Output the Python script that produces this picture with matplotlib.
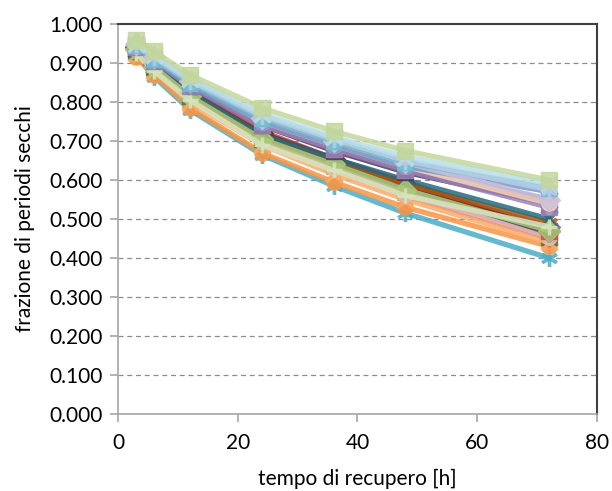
import matplotlib
matplotlib.use("Agg")
import matplotlib.pyplot as plt
from matplotlib.ticker import FormatStrFormatter

plt.rcParams['font.family'] = ['Lato', 'DejaVu Sans']

hours = [3, 6, 12, 24, 36, 48, 72]

series = [
    [0.935, 0.895, 0.825, 0.715, 0.650, 0.590, 0.480],
    [0.940, 0.900, 0.830, 0.725, 0.655, 0.595, 0.470],
    [0.930, 0.885, 0.810, 0.700, 0.635, 0.570, 0.460],
    [0.945, 0.910, 0.845, 0.745, 0.685, 0.630, 0.550],
    [0.920, 0.865, 0.780, 0.665, 0.585, 0.515, 0.400],
    [0.915, 0.870, 0.785, 0.670, 0.595, 0.530, 0.430],
    [0.935, 0.895, 0.820, 0.710, 0.645, 0.580, 0.465],
    [0.940, 0.900, 0.825, 0.720, 0.655, 0.590, 0.470],
    [0.930, 0.890, 0.815, 0.705, 0.640, 0.575, 0.455],
    [0.945, 0.905, 0.840, 0.740, 0.675, 0.620, 0.540],
    [0.935, 0.895, 0.825, 0.715, 0.655, 0.600, 0.500],
    [0.930, 0.890, 0.820, 0.710, 0.650, 0.590, 0.490],
    [0.945, 0.910, 0.845, 0.750, 0.690, 0.635, 0.570],
    [0.930, 0.885, 0.810, 0.695, 0.625, 0.560, 0.450],
    [0.935, 0.890, 0.815, 0.705, 0.640, 0.575, 0.470],
    [0.940, 0.905, 0.840, 0.740, 0.680, 0.625, 0.530],
    [0.945, 0.910, 0.850, 0.760, 0.700, 0.645, 0.580],
    [0.925, 0.880, 0.800, 0.690, 0.615, 0.550, 0.440],
    [0.950, 0.915, 0.855, 0.765, 0.705, 0.650, 0.575],
    [0.935, 0.890, 0.815, 0.700, 0.630, 0.565, 0.455],
    [0.925, 0.880, 0.805, 0.690, 0.625, 0.560, 0.480],
    [0.950, 0.915, 0.855, 0.760, 0.700, 0.645, 0.550],
    [0.950, 0.920, 0.860, 0.770, 0.710, 0.660, 0.590],
    [0.945, 0.910, 0.850, 0.750, 0.690, 0.635, 0.540],
    [0.960, 0.930, 0.870, 0.785, 0.725, 0.675, 0.600],
]

colors = [
    '#4F81BD', '#C0504D', '#9BBB59', '#8064A2', '#4BACC6', '#F79646',
    '#2C4D75', '#772C2A', '#5F7530', '#4D3B62', '#276A7C', '#B65708',
    '#729ACA', '#CD7371', '#AFC97A', '#9983B5', '#6FBDD1', '#F9AB6B',
    '#B9CDE5', '#E6B9B8', '#D7E4BD', '#CCC1DA', '#B7DEE8', '#FCD5B5',
    '#C3D69B',
]
STAR = (6, 2, 0)
markers = ['D', 's', '^', 'x', STAR, 'o', '+',
           'D', 's', '^', 'x', STAR, 'o', '+',
           'D', 's', '^', 'x', STAR, 'o', '+',
           'D', 'x', 'o', 's']

yticks = [0.0, 0.1, 0.2, 0.3, 0.4, 0.5, 0.6, 0.7, 0.8, 0.9, 1.0]
xticks = [0, 20, 40, 60, 80]

fig = plt.figure(figsize=(6.12, 4.91), dpi=100)
ax = fig.add_axes([0.1928, 0.1568, 0.7827, 0.7943])

ax.set_xlim(0, 80)
ax.set_ylim(0, 1.0)
ax.set_yticks(yticks)
ax.set_xticks(xticks)
ax.yaxis.set_major_formatter(FormatStrFormatter('%.3f'))

for gy in yticks[1:-1]:
    ax.axhline(gy, color='#8C8C8C', lw=0.9, ls=(0, (4, 3)), zorder=1)

order = [4, 5, 2, 8, 13, 17, 19, 0, 1, 6, 7, 11, 10, 14, 9, 3, 20, 15, 23, 12, 21, 16, 18, 22, 24]
for i in order:
    m = markers[i]
    if m in ('x', '+') or m == STAR:
        ms, mew = 12, 2.4
    else:
        ms, mew = 11, 1
    ax.plot(hours, series[i], color=colors[i], lw=3.8, marker=m, ms=ms,
            mew=mew, mec=colors[i], alpha=0.85, zorder=2, solid_joinstyle='round')

for s in ['left', 'bottom']:
    ax.spines[s].set_color('#A6A6A6')
    ax.spines[s].set_linewidth(1.2)
for s in ['top', 'right']:
    ax.spines[s].set_color('#404040')
    ax.spines[s].set_linewidth(1.5)

ax.tick_params(axis='both', colors='#A6A6A6', labelcolor='#000000', labelsize=15,
               length=6, width=1.2, direction='out')
ax.tick_params(axis='x', pad=8)
ax.tick_params(axis='y', pad=5)

ax.set_xlabel('tempo di recupero [h]', fontsize=15, labelpad=11)
ax.set_ylabel('frazione di periodi secchi', fontsize=15, labelpad=10)

fig.savefig('out.png', dpi=100)
